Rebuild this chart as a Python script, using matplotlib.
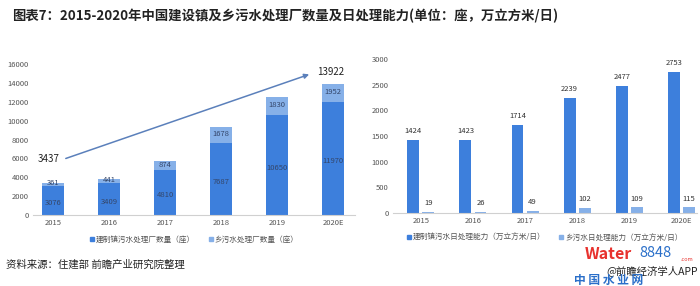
import numpy as np
import matplotlib
matplotlib.use("Agg")
import matplotlib.pyplot as plt
from matplotlib.lines import Line2D

plt.rcParams['font.family'] = ['Noto Sans CJK SC', 'DejaVu Sans']

years = ["2015", "2016", "2017", "2018", "2019", "2020E"]
town_plants = [3076, 3409, 4810, 7687, 10650, 11970]
village_plants = [361, 441, 874, 1678, 1830, 1952]
town_capacity = [1424, 1423, 1714, 2239, 2477, 2753]
village_capacity = [19, 26, 49, 102, 109, 115]

dark = "#3d7fdc"
light = "#86b0e8"
tick_c = "#555555"


def square_legend(ax, labels):
    handles = [Line2D([], [], ls="none", marker="s", markersize=3, color=c) for c in (dark, light)]
    ax.legend(handles, labels, loc="upper center", bbox_to_anchor=(0.5, -0.09), ncol=2, frameon=False,
              fontsize=5.5, handlelength=0.6, handletextpad=0.2, columnspacing=1.8, labelcolor=tick_c)


fig = plt.figure(figsize=(7, 2.86), dpi=100)
fig.patch.set_facecolor("white")

fig.text(0.017, 0.945, "图表7：2015-2020年中国建设镇及乡污水处理厂数量及日处理能力(单位：座，万立方米/日)",
         fontsize=9.6, fontweight="bold", color="#222222", va="center")

# left: stacked bars of plant counts
ax1 = fig.add_axes([0.047, 0.248, 0.46, 0.528])
x = np.arange(len(years))
ax1.bar(x, town_plants, width=0.4, color=dark)
ax1.bar(x, village_plants, width=0.4, bottom=town_plants, color=light)
for i in range(len(years)):
    ax1.text(x[i], town_plants[i] / 2 - 300, str(town_plants[i]), ha="center", va="center",
             fontsize=5.5, color="#34466a")
    ax1.text(x[i], town_plants[i] + village_plants[i] / 2 + 100, str(village_plants[i]), ha="center",
             va="center", fontsize=5.5, color="#34466a")
totals = [a + b for a, b in zip(town_plants, village_plants)]
ax1.annotate("", xy=(4.62, 15000), xytext=(0.18, 5900),
             arrowprops=dict(arrowstyle="-|>", color="#5b80bb", lw=1.1, mutation_scale=7))
ax1.text(0.12, 5900, str(totals[0]), ha="right", va="center", fontsize=7, color="#222222")
ax1.text(4.72, 15150, str(totals[-1]), ha="left", va="center", fontsize=7, color="#222222")
ax1.set_xlim(-0.36, 5.39)
ax1.set_ylim(0, 16000)
ax1.set_yticks(np.arange(0, 16001, 2000))
ax1.set_xticks(x)
ax1.set_xticklabels(years)
ax1.tick_params(axis="both", length=0, labelsize=5.5, colors=tick_c, pad=3)
for s in ["top", "right", "left"]:
    ax1.spines[s].set_visible(False)
ax1.spines["bottom"].set_color("#d0d0d0")
square_legend(ax1, ["建制镇污水处理厂数量（座）", "乡污水处理厂数量（座）"])

# right: grouped bars of daily capacity
ax2 = fig.add_axes([0.561, 0.255, 0.434, 0.539])
ax2.bar(x - 0.145, town_capacity, width=0.23, color=dark)
ax2.bar(x + 0.145, village_capacity, width=0.23, color=light)
for i in range(len(years)):
    ax2.text(x[i] - 0.145, town_capacity[i] + 90, str(town_capacity[i]), ha="center", va="bottom",
             fontsize=5.5, color="#333333", clip_on=False)
    ax2.text(x[i] + 0.145, village_capacity[i] + 90, str(village_capacity[i]), ha="center", va="bottom",
             fontsize=5.5, color="#333333", clip_on=False)
ax2.set_xlim(-0.54, 5.29)
ax2.set_ylim(0, 3000)
ax2.set_yticks(np.arange(0, 3001, 500))
ax2.set_xticks(x)
ax2.set_xticklabels(years)
ax2.tick_params(axis="both", length=0, labelsize=5.5, colors=tick_c, pad=3)
for s in ["top", "right", "left"]:
    ax2.spines[s].set_visible(False)
ax2.spines["bottom"].set_color("#d0d0d0")
square_legend(ax2, ["建制镇污水日处理能力（万立方米/日）", "乡污水日处理能力（万立方米/日）"])

fig.text(0.008, 0.075, "资料来源：住建部 前瞻产业研究院整理", fontsize=7.5, color="#222222", va="center")

# watermark in the corner
fig.text(0.835, 0.112, "Water", fontsize=11.5, fontweight="bold", color="#e8322e", va="center")
fig.text(0.913, 0.117, "8848", fontsize=10.5, style="italic", color="#2a6fc9", va="center")
fig.text(0.972, 0.092, ".com", fontsize=4, color="#e8322e", va="center")
fig.text(0.997, 0.055, "@前瞻经济学人APP", ha="right", fontsize=7.5, color="#222222", va="center")
fig.text(0.82, 0.02, "中 国 水 业 网", fontsize=8.5, fontweight="bold", color="#2a6fc9", va="center")

fig.savefig("out.png", dpi=100)
